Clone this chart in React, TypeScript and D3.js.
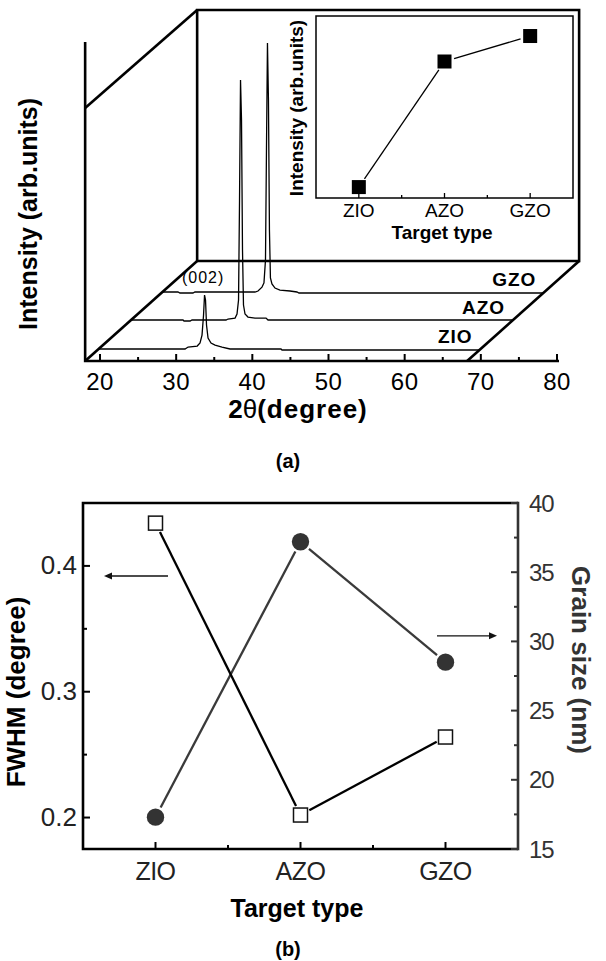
import React, { useEffect, useRef } from 'react';
import * as d3 from 'd3';

const FONT = "'Liberation Sans', Arial, Helvetica, sans-serif";

// (a) XRD patterns, [2theta (deg), intensity (counts)]
const targets = ['ZIO', 'AZO', 'GZO'];
const twoThetaMajor = [20, 30, 40, 50, 60, 70, 80];
const twoThetaMinor = [25, 35, 45, 55, 65, 75];

const zioPattern: [number, number][] = [
  [18.1, 0], [29.4, 0], [29.8, 80], [31.0, 120], [31.37, 245], [31.63, 570], [31.83, 1390],
  [31.96, 2200], [32.09, 2000], [32.22, 980], [32.42, 450], [32.81, 245], [33.34, 160],
  [34.26, 80], [35.31, 0], [42.0, 0], [42.13, -40], [68.1, -40],
];
const azoPattern: [number, number][] = [
  [18.1, 0], [24.87, 0], [25.0, -40], [25.8, -40], [26.05, 0], [30.52, 0], [30.78, 40],
  [31.7, 80], [31.96, 245], [32.16, 815], [32.29, 4900], [32.42, 9800], [32.55, 8160],
  [32.68, 2860], [32.81, 610], [33.01, 245], [33.4, 120], [34.32, 80], [35.77, 80],
  [36.03, 0], [68.1, 0],
];
const gzoPattern: [number, number][] = [
  [18.1, 0], [20.09, 0], [20.35, -40], [22.06, -40], [22.32, 0], [30.2, 0], [30.6, 40],
  [31.12, 200], [31.38, 370], [31.58, 1300], [31.71, 5800], [31.84, 10160], [31.97, 7840],
  [32.1, 2530], [32.23, 570], [32.43, 330], [32.83, 160], [33.48, 80], [34.8, 40],
  [35.71, 0], [35.98, -40], [68.1, -40],
];
const patterns = [zioPattern, azoPattern, gzoPattern];

// inset: (002) peak intensity, arb. units
const insetIntensity = [6, 75, 89];

// (b)
const fwhm = [0.434, 0.202, 0.264];
const grainSize = [17.3, 37.2, 28.5];
const fwhmTicks = [0.2, 0.3, 0.4];
const fwhmMinor = [0.25, 0.35];
const grainTicks = [15, 20, 25, 30, 35, 40];
const grainMinor = [17.5, 22.5, 27.5, 32.5, 37.5];

export default function App() {
  const svgRef = useRef<SVGSVGElement>(null);

  useEffect(() => {
    if (!svgRef.current) return;
    const svg = d3.select(svgRef.current);
    svg.selectAll('*').remove();

    // ---------- (a) waterfall ----------
    const g = svg.append('g');
    const x = d3.scaleLinear().domain([20, 80]).range([100, 557]);
    const inten = d3.scaleLinear().domain([0, 10000]).range([0, 245]);
    const floorY = 361;
    const depthDx = 112, depthDy = -100;
    const boxH = 251;
    const floorStart = 18.05, floorEnd = 68.2;
    const traceDepth = [0.12, 0.41, 0.69];

    const x0 = x(floorStart), x1 = x(floorEnd);
    const frame = (d: string, w = 2.6) =>
      g.append('path').attr('d', d).attr('fill', 'none').attr('stroke', '#000')
        .attr('stroke-width', w).attr('stroke-linejoin', 'miter');

    // back plane
    frame(`M${x0 + depthDx},${floorY + depthDy - boxH} L${x1 + depthDx},${floorY + depthDy - boxH} L${x1 + depthDx},${floorY + depthDy} L${x0 + depthDx},${floorY + depthDy} Z`);
    // side diagonals
    frame(`M${x0},${floorY - 253} L${x0 + depthDx},${floorY + depthDy - boxH}`);
    frame(`M${x0},${floorY} L${x0 + depthDx},${floorY + depthDy}`);
    frame(`M${x1},${floorY} L${x1 + depthDx},${floorY + depthDy}`);
    // front axes
    frame(`M${x0},${floorY - 319} L${x0},${floorY} L${x(80) + 2},${floorY}`);

    // ticks
    twoThetaMajor.forEach(t => {
      g.append('line').attr('x1', x(t)).attr('x2', x(t)).attr('y1', floorY).attr('y2', floorY - 7)
        .attr('stroke', '#000').attr('stroke-width', 2);
      g.append('text').attr('x', x(t)).attr('y', floorY + 29).attr('text-anchor', 'middle')
        .attr('font-family', FONT).attr('font-size', 24).attr('letter-spacing', 0.5).text(t);
    });
    twoThetaMinor.forEach(t => {
      g.append('line').attr('x1', x(t)).attr('x2', x(t)).attr('y1', floorY).attr('y2', floorY - 4)
        .attr('stroke', '#000').attr('stroke-width', 2);
    });

    // patterns
    patterns.forEach((p, i) => {
      const f = traceDepth[i];
      const line = d3.line<[number, number]>()
        .x(d => x(d[0]) + f * depthDx)
        .y(d => floorY + f * depthDy - inten(d[1]));
      g.append('path').datum(p).attr('d', line).attr('fill', 'none')
        .attr('stroke', '#000').attr('stroke-width', 1.3);
      g.append('text')
        .attr('x', x1 + f * depthDx - 8)
        .attr('y', floorY + f * depthDy - 6.5)
        .attr('text-anchor', 'end').attr('font-family', FONT).attr('font-weight', 'bold')
        .attr('font-size', 19).attr('letter-spacing', 1).text(targets[i]);
    });

    g.append('text')
      .attr('x', x(23.4) + traceDepth[2] * depthDx)
      .attr('y', floorY + traceDepth[2] * depthDy - 9)
      .attr('text-anchor', 'middle').attr('font-family', FONT).attr('font-size', 16)
      .attr('letter-spacing', 1).text('(002)');

    g.append('text')
      .attr('transform', `translate(37,214) rotate(-90)`)
      .attr('text-anchor', 'middle').attr('font-family', FONT).attr('font-weight', 'bold')
      .attr('font-size', 25).text('Intensity (arb.units)');

    const xl = g.append('text').attr('x', 298).attr('y', 418).attr('text-anchor', 'middle')
      .attr('font-family', FONT).attr('font-weight', 'bold').attr('font-size', 26);
    xl.append('tspan').text('2');
    xl.append('tspan').attr('font-weight', 'normal').text('θ');
    xl.append('tspan').attr('letter-spacing', 1).text('(degree)');

    g.append('text').attr('x', 288).attr('y', 468).attr('text-anchor', 'middle')
      .attr('font-family', FONT).attr('font-weight', 'bold').attr('font-size', 20).text('(a)');

    // ---------- inset ----------
    const ins = svg.append('g');
    const xi = d3.scalePoint<string>().domain(targets).range([316, 573]).padding(0.5);
    const yi = d3.scaleLinear().domain([0, 100]).range([198, 16]);
    ins.append('rect').attr('x', 316).attr('y', 16).attr('width', 257).attr('height', 182)
      .attr('fill', '#fff').attr('stroke', '#000').attr('stroke-width', 1.5);
    const step = xi.step();
    targets.forEach((t, i) => {
      const cx = xi(t)!;
      ins.append('line').attr('x1', cx).attr('x2', cx).attr('y1', 198).attr('y2', 193)
        .attr('stroke', '#000').attr('stroke-width', 1.3);
      if (i < targets.length - 1)
        ins.append('line').attr('x1', cx + step / 2).attr('x2', cx + step / 2).attr('y1', 198).attr('y2', 195)
          .attr('stroke', '#000').attr('stroke-width', 1.3);
      ins.append('text').attr('x', cx).attr('y', 217).attr('text-anchor', 'middle')
        .attr('font-family', FONT).attr('font-size', 19).text(t);
    });
    const insPts = targets.map((t, i) => [xi(t)!, yi(insetIntensity[i])] as [number, number]);
    const seg = (a: [number, number], b: [number, number], gap: number) => {
      const dx = b[0] - a[0], dy = b[1] - a[1];
      const L = Math.hypot(dx, dy);
      return `M${a[0] + dx / L * gap},${a[1] + dy / L * gap} L${b[0] - dx / L * gap},${b[1] - dy / L * gap}`;
    };
    for (let i = 0; i < insPts.length - 1; i++) {
      ins.append('path').attr('d', seg(insPts[i], insPts[i + 1], 10)).attr('stroke', '#000')
        .attr('stroke-width', 1.3).attr('fill', 'none');
    }
    insPts.forEach(p => {
      ins.append('rect').attr('x', p[0] - 7).attr('y', p[1] - 7).attr('width', 14).attr('height', 14)
        .attr('fill', '#000');
    });
    ins.append('text').attr('transform', `translate(303,108) rotate(-90)`).attr('text-anchor', 'middle')
      .attr('font-family', FONT).attr('font-weight', 'bold').attr('font-size', 19).text('Intensity (arb.units)');
    ins.append('text').attr('x', 442).attr('y', 239).attr('text-anchor', 'middle')
      .attr('font-family', FONT).attr('font-weight', 'bold').attr('font-size', 19).text('Target type');

    // ---------- (b) ----------
    const b = svg.append('g');
    const L = 83, R = 518, T = 503, B = 849;
    const xb = d3.scalePoint<string>().domain(targets).range([L, R]).padding(0.5);
    const yL = d3.scaleLinear().domain([0.175, 0.45]).range([B, T]);
    const yR = d3.scaleLinear().domain([15, 40]).range([B, T]);

    b.append('path').attr('d', `M${R},${T} L${L},${T} L${L},${B} L${R},${B}`).attr('fill', 'none')
      .attr('stroke', '#000').attr('stroke-width', 2.6);
    b.append('path').attr('d', `M${R},${T - 1.3} L${R},${B + 1.3}`).attr('stroke', '#333').attr('stroke-width', 2.6);

    const bstep = xb.step();
    targets.forEach((t, i) => {
      const cx = xb(t)!;
      b.append('line').attr('x1', cx).attr('x2', cx).attr('y1', B).attr('y2', B - 7).attr('stroke', '#000').attr('stroke-width', 2);
      if (i < targets.length - 1)
        b.append('line').attr('x1', cx + bstep / 2).attr('x2', cx + bstep / 2).attr('y1', B).attr('y2', B - 4)
          .attr('stroke', '#000').attr('stroke-width', 2);
      b.append('text').attr('x', cx).attr('y', 880).attr('text-anchor', 'middle').attr('fill', '#222')
        .attr('font-family', FONT).attr('font-size', 25).attr('letter-spacing', -0.5).text(t);
    });
    fwhmTicks.forEach(v => {
      b.append('line').attr('x1', L).attr('x2', L + 7).attr('y1', yL(v)).attr('y2', yL(v)).attr('stroke', '#000').attr('stroke-width', 2);
      b.append('text').attr('x', 77).attr('y', yL(v) + 8.5).attr('text-anchor', 'end').attr('fill', '#222')
        .attr('font-family', FONT).attr('font-size', 26).text(v.toFixed(1));
    });
    fwhmMinor.forEach(v => {
      b.append('line').attr('x1', L).attr('x2', L + 4).attr('y1', yL(v)).attr('y2', yL(v)).attr('stroke', '#000').attr('stroke-width', 2);
    });
    grainTicks.forEach(v => {
      b.append('line').attr('x1', R).attr('x2', R - 7).attr('y1', yR(v)).attr('y2', yR(v)).attr('stroke', '#333').attr('stroke-width', 2);
      b.append('text').attr('x', 529).attr('y', yR(v) + 8.5).attr('text-anchor', 'start').attr('fill', '#333')
        .attr('font-family', FONT).attr('font-size', 24).attr('letter-spacing', -1).text(v);
    });
    grainMinor.forEach(v => {
      b.append('line').attr('x1', R).attr('x2', R - 4).attr('y1', yR(v)).attr('y2', yR(v)).attr('stroke', '#333').attr('stroke-width', 2);
    });

    // grain size (filled circles)
    const gPts = targets.map((t, i) => [xb(t)!, yR(grainSize[i])] as [number, number]);
    for (let i = 0; i < gPts.length - 1; i++) {
      b.append('path').attr('d', seg(gPts[i], gPts[i + 1], 11)).attr('stroke', '#3a3a3a')
        .attr('stroke-width', 2.3).attr('fill', 'none');
    }
    gPts.forEach(p => {
      b.append('circle').attr('cx', p[0]).attr('cy', p[1]).attr('r', 8.7).attr('fill', '#333');
    });

    // FWHM (open squares)
    const fPts = targets.map((t, i) => [xb(t)!, yL(fwhm[i])] as [number, number]);
    for (let i = 0; i < fPts.length - 1; i++) {
      b.append('path').attr('d', seg(fPts[i], fPts[i + 1], 10)).attr('stroke', '#000')
        .attr('stroke-width', 2.3).attr('fill', 'none');
    }
    fPts.forEach(p => {
      b.append('rect').attr('x', p[0] - 7).attr('y', p[1] - 7).attr('width', 14).attr('height', 14)
        .attr('fill', '#fff').attr('stroke', '#111').attr('stroke-width', 1.5);
    });

    // arrows
    const arrow = (xa: number, xbb: number, y: number, dir: number) => {
      b.append('line').attr('x1', xa).attr('x2', xbb - dir * 6).attr('y1', y).attr('y2', y)
        .attr('stroke', '#111').attr('stroke-width', 1.4);
      b.append('path').attr('d', `M${xbb},${y} L${xbb - dir * 8},${y - 3.5} L${xbb - dir * 8},${y + 3.5} Z`)
        .attr('fill', '#111');
    };
    arrow(168, 104, yL(0.392), -1);
    arrow(437, 497, yR(30.4), 1);

    b.append('text').attr('transform', `translate(25,692) rotate(-90)`).attr('text-anchor', 'middle')
      .attr('font-family', FONT).attr('font-weight', 'bold').attr('font-size', 26).text('FWHM (degree)');
    b.append('text').attr('transform', `translate(572,660) rotate(90)`).attr('text-anchor', 'middle').attr('fill', '#333')
      .attr('font-family', FONT).attr('font-weight', 'bold').attr('font-size', 26).text('Grain size (nm)');
    b.append('text').attr('x', 297).attr('y', 917).attr('text-anchor', 'middle')
      .attr('font-family', FONT).attr('font-weight', 'bold').attr('font-size', 25).text('Target type');
    b.append('text').attr('x', 288).attr('y', 956).attr('text-anchor', 'middle')
      .attr('font-family', FONT).attr('font-weight', 'bold').attr('font-size', 20).text('(b)');
  }, []);

  return (
    <svg
      ref={svgRef}
      width={606}
      height={961}
      style={{ position: 'absolute', left: 0, top: 0, background: '#fff' }}
    />
  );
}
